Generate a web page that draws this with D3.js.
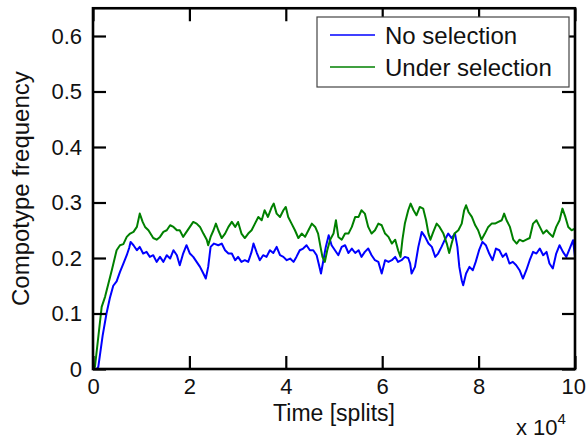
<!DOCTYPE html>
<html><head><meta charset="utf-8">
<script src="https://cdn.jsdelivr.net/npm/d3@7"></script>
<style>body{margin:0;background:#fff}</style>
</head><body>
<svg id="chart" width="586" height="441"></svg>
<script>
const xTicks = [0, 2, 4, 6, 8, 10];
const yTicks = [0, 0.1, 0.2, 0.3, 0.4, 0.5, 0.6];
const seriesNames = ["No selection", "Under selection"];
const xLabel = "Time [splits]";
const yLabel = "Compotype frequency";

// [time (x10^4 splits), frequency]
const noSelection = [
[0,0],[0.08,0],[0.11,0.004],[0.2,0.06],[0.28,0.10],[0.35,0.128],[0.42,0.15],[0.49,0.158],[0.56,0.175],[0.63,0.19],
[0.70,0.205],[0.75,0.218],[0.78,0.229],[0.84,0.223],[0.91,0.214],[0.97,0.220],[1.04,0.208],[1.11,0.211],[1.18,0.202],[1.25,0.205],
[1.32,0.193],[1.39,0.202],[1.46,0.193],[1.53,0.205],[1.60,0.199],[1.67,0.214],[1.74,0.205],[1.80,0.187],[1.87,0.208],[1.94,0.223],
[2.01,0.208],[2.08,0.202],[2.15,0.193],[2.22,0.184],[2.29,0.172],[2.34,0.163],[2.39,0.184],[2.44,0.220],[2.51,0.226],[2.60,0.223],
[2.67,0.226],[2.74,0.214],[2.81,0.208],[2.88,0.208],[2.95,0.196],[3.01,0.202],[3.08,0.193],[3.15,0.196],[3.22,0.193],[3.29,0.211],
[3.33,0.226],[3.40,0.209],[3.46,0.196],[3.53,0.205],[3.60,0.202],[3.67,0.214],[3.74,0.209],[3.81,0.220],[3.88,0.205],[3.95,0.202],
[4.02,0.196],[4.09,0.199],[4.16,0.193],[4.22,0.202],[4.29,0.214],[4.36,0.217],[4.43,0.223],[4.50,0.214],[4.57,0.214],[4.64,0.205],
[4.69,0.187],[4.73,0.172],[4.78,0.196],[4.83,0.220],[4.89,0.241],[4.95,0.223],[5.02,0.214],[5.09,0.205],[5.16,0.220],[5.23,0.223],
[5.30,0.209],[5.37,0.217],[5.44,0.209],[5.51,0.214],[5.57,0.202],[5.64,0.211],[5.71,0.217],[5.78,0.205],[5.85,0.196],[5.92,0.193],
[5.99,0.172],[6.06,0.196],[6.13,0.193],[6.20,0.196],[6.27,0.202],[6.33,0.193],[6.40,0.196],[6.47,0.202],[6.54,0.200],[6.58,0.190],
[6.61,0.172],[6.68,0.184],[6.75,0.220],[6.82,0.247],[6.89,0.238],[6.96,0.226],[7.03,0.220],[7.10,0.202],[7.16,0.208],[7.23,0.220],
[7.30,0.233],[7.37,0.244],[7.44,0.236],[7.51,0.244],[7.56,0.220],[7.60,0.184],[7.65,0.160],[7.68,0.151],[7.74,0.172],[7.81,0.184],
[7.88,0.178],[7.94,0.193],[8.01,0.214],[8.08,0.229],[8.15,0.223],[8.22,0.208],[8.29,0.196],[8.36,0.217],[8.43,0.214],[8.50,0.202],
[8.57,0.208],[8.64,0.190],[8.71,0.193],[8.78,0.187],[8.85,0.178],[8.92,0.163],[8.99,0.178],[9.06,0.196],[9.13,0.211],[9.20,0.208],
[9.27,0.217],[9.34,0.205],[9.41,0.211],[9.47,0.190],[9.54,0.181],[9.61,0.208],[9.68,0.223],[9.75,0.211],[9.82,0.202],[9.89,0.217],
[9.96,0.232],[10.0,0.202]
];

const underSelection = [
[0,0],[0.04,0.004],[0.1,0.05],[0.18,0.112],[0.25,0.13],[0.32,0.154],[0.39,0.178],[0.49,0.214],[0.56,0.223],[0.63,0.225],
[0.70,0.238],[0.77,0.244],[0.84,0.247],[0.91,0.256],[0.97,0.280],[1.03,0.265],[1.08,0.256],[1.15,0.250],[1.25,0.236],[1.32,0.233],
[1.39,0.238],[1.46,0.247],[1.53,0.250],[1.60,0.259],[1.67,0.256],[1.74,0.250],[1.80,0.250],[1.87,0.238],[1.94,0.247],[2.01,0.256],
[2.08,0.265],[2.15,0.262],[2.22,0.256],[2.29,0.244],[2.36,0.233],[2.39,0.223],[2.44,0.238],[2.50,0.250],[2.55,0.262],[2.60,0.250],
[2.67,0.236],[2.74,0.244],[2.81,0.256],[2.88,0.265],[2.95,0.256],[3.01,0.265],[3.08,0.244],[3.15,0.236],[3.22,0.244],[3.29,0.250],
[3.36,0.262],[3.43,0.274],[3.50,0.268],[3.56,0.286],[3.63,0.274],[3.71,0.292],[3.75,0.298],[3.81,0.280],[3.88,0.274],[3.95,0.286],
[4.00,0.292],[4.05,0.274],[4.12,0.262],[4.19,0.250],[4.26,0.236],[4.33,0.244],[4.40,0.238],[4.47,0.250],[4.54,0.262],[4.61,0.256],
[4.67,0.244],[4.72,0.220],[4.76,0.202],[4.81,0.193],[4.86,0.214],[4.92,0.233],[4.99,0.244],[5.04,0.268],[5.09,0.238],[5.16,0.233],
[5.23,0.244],[5.30,0.244],[5.37,0.256],[5.44,0.274],[5.51,0.274],[5.57,0.286],[5.64,0.280],[5.71,0.256],[5.78,0.244],[5.85,0.250],
[5.92,0.262],[5.99,0.259],[6.06,0.244],[6.13,0.238],[6.20,0.226],[6.27,0.233],[6.33,0.214],[6.38,0.202],[6.42,0.233],[6.47,0.262],
[6.54,0.286],[6.59,0.298],[6.65,0.286],[6.71,0.277],[6.78,0.292],[6.85,0.289],[6.91,0.268],[6.96,0.244],[7.00,0.233],[7.06,0.247],
[7.13,0.262],[7.19,0.256],[7.27,0.244],[7.34,0.226],[7.39,0.209],[7.44,0.226],[7.50,0.244],[7.58,0.250],[7.65,0.262],[7.70,0.286],
[7.74,0.295],[7.79,0.283],[7.86,0.274],[7.93,0.259],[7.99,0.250],[8.06,0.233],[8.13,0.244],[8.20,0.256],[8.27,0.262],[8.34,0.262],
[8.41,0.265],[8.48,0.268],[8.53,0.280],[8.58,0.268],[8.65,0.256],[8.72,0.233],[8.79,0.226],[8.85,0.233],[8.92,0.230],[8.99,0.233],
[9.06,0.236],[9.13,0.262],[9.20,0.268],[9.27,0.256],[9.34,0.244],[9.41,0.250],[9.47,0.244],[9.54,0.238],[9.61,0.256],[9.68,0.268],
[9.74,0.289],[9.80,0.274],[9.86,0.256],[9.93,0.250],[10.0,0.253]
];

const colors = ["#0000ff", "#008000"];
const font = "'Liberation Sans', Arial, Helvetica, sans-serif";

const svg = d3.select("#chart");
svg.append("rect").attr("width", 586).attr("height", 441).attr("fill", "#fff");

const x = d3.scaleLinear().domain([0, 10]).range([93, 575]);
const y = d3.scaleLinear().domain([0, 0.65]).range([369, 8.25]);

const line = d3.line().x(d => x(d[0])).y(d => y(d[1]));

// data lines
[noSelection, underSelection].forEach((s, i) => {
  svg.append("path").datum(s)
    .attr("fill", "none").attr("stroke", colors[i])
    .attr("stroke-width", 2).attr("stroke-linejoin", "round")
    .attr("d", line);
});

const yFmt = d => d === 0 ? "0" : d3.format(".1f")(d);

function styleAxis(g) {
  g.select(".domain").remove();
  g.selectAll(".tick line").attr("stroke", "#000").attr("stroke-width", 2.2);
  g.selectAll(".tick text").attr("fill", "#111").attr("font-size", null)
    .style("font-family", font).style("font-size", "22px");
}

const xAxisG = svg.append("g").attr("transform", "translate(0,369)")
  .call(d3.axisBottom(x).tickValues(xTicks).tickSize(-13).tickPadding(9).tickFormat(d3.format("d")))
  .call(styleAxis);
// keep the last label inside the window
xAxisG.selectAll(".tick text").filter(d => d === 10).attr("text-anchor", "end").attr("dx", 10.5);

svg.append("g").attr("transform", "translate(0,8.25)")
  .call(d3.axisTop(x).tickValues(xTicks).tickSize(-13).tickFormat(""))
  .call(styleAxis);
svg.append("g").attr("transform", "translate(93,0)")
  .call(d3.axisLeft(y).tickValues(yTicks).tickSize(-13).tickPadding(11).tickFormat(yFmt))
  .call(styleAxis);
svg.append("g").attr("transform", "translate(575,0)")
  .call(d3.axisRight(y).tickValues(yTicks).tickSize(-13).tickFormat(""))
  .call(styleAxis);

// frame
svg.append("rect")
  .attr("x", x(0)).attr("y", y(0.65))
  .attr("width", x(10) - x(0)).attr("height", y(0) - y(0.65))
  .attr("fill", "none").attr("stroke", "#000").attr("stroke-width", 2.6);

// axis labels
svg.append("text").attr("x", (x(0) + x(10)) / 2).attr("y", 421)
  .attr("text-anchor", "middle").style("font-family", font).style("font-size", "23px").attr("fill", "#111")
  .text(xLabel);
svg.append("text").attr("transform", `translate(29,${(y(0) + y(0.65)) / 2}) rotate(-90)`)
  .attr("text-anchor", "middle").style("font-family", font).style("font-size", "24px").attr("fill", "#111")
  .text(yLabel);

const mult = svg.append("text").attr("x", 516).attr("y", 435)
  .style("font-family", font).style("font-size", "22px").attr("fill", "#111");
mult.append("tspan").text("x 10");
mult.append("tspan").attr("dy", -11).style("font-size", "15px").text("4");

// legend
const lg = svg.append("g");
lg.append("rect").attr("x", 317).attr("y", 17).attr("width", 252).attr("height", 70)
  .attr("fill", "#fff").attr("stroke", "#444").attr("stroke-width", 1.2);
seriesNames.forEach((name, i) => {
  const cy = 35 + i * 32;
  lg.append("line").attr("x1", 330).attr("x2", 375).attr("y1", cy).attr("y2", cy)
    .attr("stroke", colors[i]).attr("stroke-width", 1.6);
  lg.append("text").attr("x", 385).attr("y", cy + 9)
    .style("font-family", font).style("font-size", "24px").attr("fill", "#111").text(name);
});
</script>
</body></html>
